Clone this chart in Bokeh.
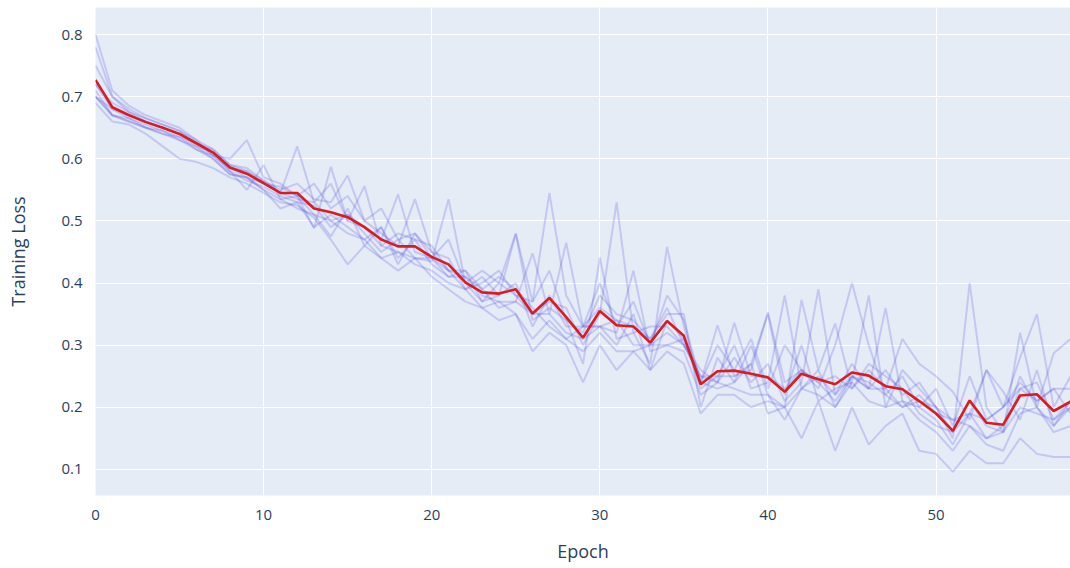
from bokeh.plotting import figure
from bokeh.models import Range1d, FixedTicker
from bokeh.embed import file_html
from bokeh.resources import INLINE

epochs = list(range(59))

mean_loss = [0.727,0.683,0.670,0.659,0.650,0.640,0.625,0.610,0.586,0.576,
             0.561,0.545,0.545,0.520,0.514,0.506,0.490,0.470,0.459,0.459,
             0.442,0.430,0.401,0.385,0.383,0.390,0.351,0.376,0.345,0.312,
             0.355,0.332,0.330,0.304,0.339,0.315,0.237,0.258,0.259,0.254,
             0.248,0.225,0.254,0.245,0.237,0.256,0.251,0.234,0.229,0.210,
             0.190,0.162,0.211,0.175,0.172,0.219,0.221,0.194,0.209]

run_1 = [0.80,0.71,0.685,0.670,0.660,0.650,0.630,0.605,0.600,0.630,
         0.570,0.560,0.540,0.560,0.520,0.540,0.500,0.520,0.470,0.480,
         0.440,0.470,0.400,0.420,0.400,0.480,0.370,0.545,0.380,0.330,
         0.400,0.330,0.370,0.300,0.380,0.340,0.240,0.300,0.260,0.310,
         0.230,0.300,0.260,0.230,0.300,0.400,0.300,0.220,0.250,0.200,
         0.230,0.170,0.250,0.180,0.200,0.280,0.350,0.200,0.250]
run_2 = [0.78,0.70,0.680,0.665,0.655,0.645,0.625,0.615,0.590,0.585,
         0.565,0.545,0.620,0.530,0.560,0.500,0.490,0.460,0.480,0.470,
         0.430,0.410,0.420,0.370,0.400,0.380,0.350,0.370,0.360,0.300,
         0.350,0.530,0.320,0.330,0.330,0.300,0.250,0.240,0.280,0.240,
         0.270,0.210,0.240,0.390,0.220,0.250,0.230,0.260,0.220,0.240,
         0.200,0.150,0.400,0.200,0.160,0.230,0.210,0.230,0.190]
run_3 = [0.69,0.66,0.655,0.640,0.620,0.600,0.595,0.585,0.570,0.560,
         0.545,0.530,0.525,0.505,0.470,0.430,0.460,0.440,0.420,0.440,
         0.410,0.390,0.370,0.360,0.340,0.350,0.290,0.320,0.300,0.240,
         0.300,0.260,0.290,0.260,0.290,0.270,0.190,0.220,0.220,0.200,
         0.210,0.200,0.150,0.210,0.130,0.200,0.140,0.170,0.190,0.130,
         0.125,0.096,0.130,0.110,0.110,0.150,0.125,0.120,0.120]
run_4 = [0.70,0.68,0.670,0.660,0.650,0.640,0.620,0.600,0.575,0.570,
         0.550,0.520,0.530,0.490,0.510,0.490,0.470,0.490,0.440,0.470,
         0.460,0.420,0.390,0.410,0.380,0.400,0.330,0.380,0.330,0.330,
         0.360,0.340,0.330,0.310,0.350,0.350,0.200,0.280,0.240,0.270,
         0.350,0.220,0.300,0.210,0.230,0.240,0.380,0.200,0.260,0.230,
         0.200,0.160,0.210,0.170,0.160,0.200,0.190,0.180,0.200]
run_5 = [0.71,0.67,0.665,0.655,0.645,0.630,0.620,0.610,0.580,0.565,
         0.555,0.540,0.530,0.525,0.490,0.510,0.480,0.450,0.470,0.440,
         0.440,0.410,0.410,0.380,0.370,0.370,0.350,0.350,0.320,0.310,
         0.330,0.300,0.350,0.260,0.340,0.310,0.230,0.250,0.300,0.230,
         0.240,0.380,0.230,0.250,0.220,0.270,0.230,0.360,0.210,0.200,
         0.180,0.140,0.190,0.150,0.170,0.250,0.200,0.170,0.210]
run_6 = [0.72,0.69,0.675,0.665,0.655,0.645,0.630,0.615,0.590,0.580,
         0.565,0.550,0.560,0.535,0.530,0.573,0.500,0.480,0.460,0.535,
         0.450,0.440,0.390,0.400,0.420,0.380,0.370,0.420,0.340,0.320,
         0.380,0.350,0.340,0.310,0.360,0.300,0.260,0.240,0.336,0.250,
         0.250,0.230,0.260,0.240,0.250,0.230,0.270,0.250,0.230,0.190,
         0.170,0.160,0.190,0.260,0.200,0.230,0.240,0.180,0.210]
run_7 = [0.70,0.67,0.660,0.650,0.640,0.635,0.625,0.605,0.585,0.580,
         0.560,0.555,0.540,0.488,0.587,0.500,0.556,0.460,0.450,0.440,
         0.435,0.535,0.400,0.370,0.380,0.479,0.340,0.360,0.340,0.270,
         0.441,0.310,0.320,0.270,0.458,0.330,0.240,0.332,0.250,0.260,
         0.353,0.240,0.260,0.240,0.210,0.250,0.230,0.230,0.200,0.220,
         0.190,0.180,0.170,0.150,0.160,0.320,0.200,0.287,0.310]
run_8 = [0.75,0.70,0.675,0.660,0.650,0.640,0.625,0.610,0.585,0.570,
         0.560,0.545,0.535,0.530,0.500,0.510,0.490,0.470,0.543,0.450,
         0.440,0.420,0.410,0.390,0.360,0.370,0.448,0.350,0.465,0.330,
         0.330,0.320,0.420,0.290,0.300,0.310,0.240,0.230,0.240,0.300,
         0.220,0.200,0.373,0.260,0.335,0.230,0.260,0.230,0.310,0.270,
         0.250,0.225,0.180,0.260,0.225,0.180,0.260,0.170,0.200]
run_9 = [0.72,0.68,0.665,0.650,0.640,0.630,0.615,0.600,0.575,0.570,
         0.550,0.535,0.520,0.510,0.500,0.480,0.470,0.440,0.450,0.430,
         0.420,0.400,0.390,0.360,0.370,0.350,0.310,0.340,0.310,0.290,
         0.320,0.290,0.290,0.300,0.300,0.290,0.220,0.240,0.230,0.220,
         0.220,0.180,0.230,0.220,0.200,0.240,0.210,0.200,0.210,0.180,
         0.160,0.130,0.170,0.140,0.130,0.190,0.200,0.160,0.170]
run_10 = [0.70,0.67,0.660,0.650,0.645,0.635,0.615,0.605,0.580,0.550,
          0.590,0.535,0.540,0.510,0.475,0.520,0.460,0.490,0.430,0.480,
          0.450,0.420,0.420,0.390,0.410,0.390,0.360,0.330,0.310,0.330,
          0.330,0.340,0.300,0.300,0.320,0.300,0.250,0.250,0.250,0.270,
          0.190,0.200,0.230,0.260,0.200,0.250,0.240,0.220,0.200,0.210,
          0.200,0.180,0.190,0.180,0.200,0.240,0.210,0.230,0.230]

runs = [run_1, run_2, run_3, run_4, run_5, run_6, run_7, run_8, run_9, run_10]

x_ticks = [0, 10, 20, 30, 40, 50]
y_ticks = [0.1, 0.2, 0.3, 0.4, 0.5, 0.6, 0.7, 0.8]

FONT = "Open Sans"
TXT = "#2a3f5f"

p = figure(width=1070, height=568, output_backend="svg", toolbar_location=None,
           x_range=Range1d(0, 58), y_range=Range1d(0.058, 0.8435),
           min_border_left=95, min_border_right=0, min_border_top=7,
           min_border_bottom=73, background_fill_color="#e5ecf6",
           border_fill_color="white")
p.outline_line_color = None

for r in runs:
    p.line(epochs, r, line_color="#4b4be0", line_alpha=0.22, line_width=2)

p.line(epochs, mean_loss, line_color="#dc1a1f", line_width=2.6)

p.xgrid.grid_line_color = "white"
p.ygrid.grid_line_color = "white"
p.xgrid.grid_line_width = 1
p.ygrid.grid_line_width = 1

p.xaxis.ticker = FixedTicker(ticks=x_ticks)
p.yaxis.ticker = FixedTicker(ticks=y_ticks)
p.yaxis.major_label_overrides = {v: f"{v:.1f}" for v in y_ticks}

for ax in (p.xaxis[0], p.yaxis[0]):
    ax.axis_line_color = None
    ax.major_tick_line_color = None
    ax.minor_tick_line_color = None
    ax.major_label_text_font = FONT
    ax.major_label_text_font_size = "15px"
    ax.major_label_text_color = TXT
    ax.axis_label_text_font = FONT
    ax.axis_label_text_font_size = "18px"
    ax.axis_label_text_color = TXT
    ax.axis_label_text_font_style = "normal"

p.xaxis.axis_label = "Epoch"
p.yaxis.axis_label = "Training Loss"
p.xaxis.major_label_standoff = 8
p.yaxis.major_label_standoff = 7
p.xaxis.axis_label_standoff = 16
p.yaxis.axis_label_standoff = 28

open("out.html", "w").write(file_html(p, INLINE))
